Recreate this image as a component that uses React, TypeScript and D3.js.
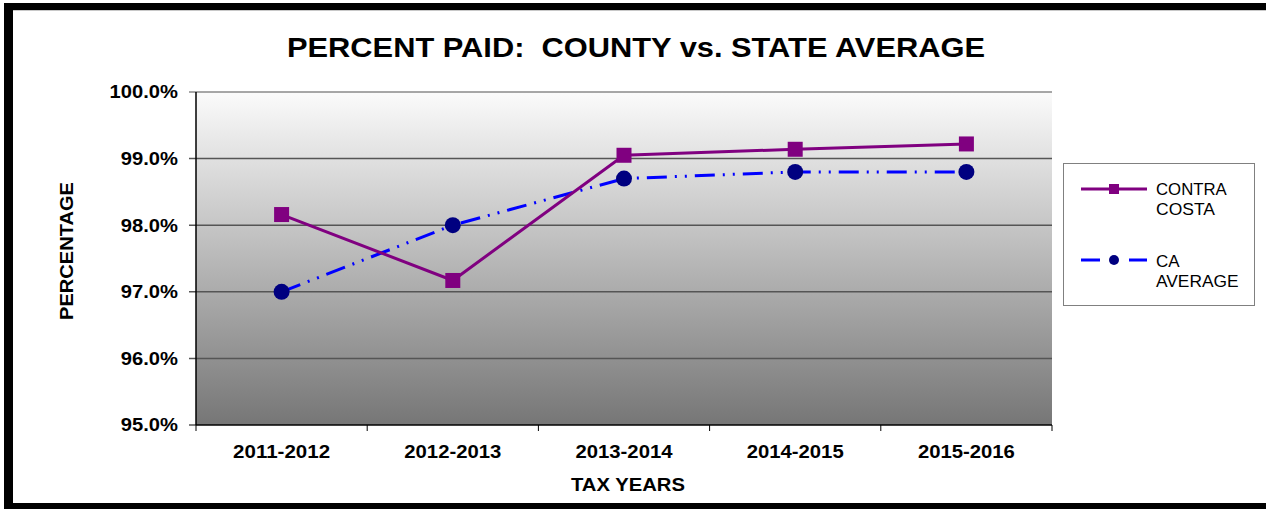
import React from "react";
import * as d3 from "d3";

const categories = ["2011-2012", "2012-2013", "2013-2014", "2014-2015", "2015-2016"];
const contraCosta = [98.16, 97.17, 99.05, 99.14, 99.22];
const caAverage = [97.0, 98.0, 98.7, 98.8, 98.8];
const yTicks = [95, 96, 97, 98, 99, 100];
const seriesNames = ["CONTRA\nCOSTA", "CA\nAVERAGE"];

const W = 1266;
const H = 511;
const M = { left: 196, top: 92, right: 1052, bottom: 425 };
const FONT = "Arial, 'Liberation Sans', Helvetica, sans-serif";
const STRETCH = 1.12;

// approximate Arial widths (em) for stretching text to the reference's wide look
function emWidth(s: string, bold: boolean) {
  const narrow: Record<string, number> = { ".": 0.278, " ": 0.278, "-": 0.333, "%": 0.889, ":": 0.333 };
  let w = 0;
  for (const ch of s) {
    if (narrow[ch] !== undefined) w += narrow[ch];
    else if (/[0-9]/.test(ch)) w += 0.556;
    else if (/[a-z]/.test(ch)) w += bold ? 0.6 : 0.53;
    else w += bold ? 0.69 : 0.68;
  }
  return w;
}

export default function App() {
  const x = d3.scaleBand<string>().domain(categories).range([M.left, M.right]).padding(0);
  const y = d3.scaleLinear().domain([95, 100]).range([M.bottom, M.top]);
  const cx = (c: string) => (x(c) as number) + x.bandwidth() / 2;

  const line = d3
    .line<number>()
    .x((_, i) => cx(categories[i]))
    .y((d) => y(d));

  const boundaries = categories.map((c) => x(c) as number).concat([M.right]);

  return (
    <div style={{ position: "absolute", left: 0, top: 0 }}>
      <svg width={W} height={H} style={{ display: "block" }}>
        <defs>
          <linearGradient id="bg" x1="0" y1="0" x2="0" y2="1">
            <stop offset="0" stopColor="#fbfbfb" />
            <stop offset="1" stopColor="#767676" />
          </linearGradient>
        </defs>
        <rect x={0} y={0} width={W} height={H} fill="#fff" />
        {/* outer frame */}
        <rect x={4} y={3} width={W} height={7} fill="#000" />
        <rect x={4} y={3} width={9} height={506} fill="#000" />
        <rect x={4} y={503} width={W} height={6} fill="#000" />
        <line x1={13} x2={W} y1={10.5} y2={10.5} stroke="#c8c8c8" strokeWidth={1} />

        <text
          x={636}
          y={57}
          textAnchor="middle"
          fontFamily={FONT}
          fontWeight="bold"
          fontSize={28}
          textLength={698}
          lengthAdjust="spacingAndGlyphs"
          style={{ whiteSpace: "pre" }}
        >
          {"PERCENT PAID:  COUNTY vs. STATE AVERAGE"}
        </text>

        {/* plot background */}
        <rect x={M.left} y={M.top} width={M.right - M.left} height={M.bottom - M.top} fill="url(#bg)" />

        {/* gridlines */}
        {yTicks.map((t) => {
          const label = t.toFixed(1) + "%";
          return (
            <g key={t}>
              <line
                x1={M.left - 7}
                x2={t === 95 ? M.left : M.right}
                y1={y(t)}
                y2={y(t)}
                stroke={t === 100 ? "#8a8a8a" : "#555"}
                strokeWidth={1.5}
              />
              <text
                x={178}
                y={y(t)}
                dy="0.36em"
                textAnchor="end"
                fontFamily={FONT}
                fontWeight="bold"
                fontSize={18}
                textLength={emWidth(label, true) * 18 * STRETCH}
                lengthAdjust="spacingAndGlyphs"
              >
                {label}
              </text>
            </g>
          );
        })}

        {/* axes */}
        <line x1={M.left} x2={M.left} y1={M.top} y2={M.bottom} stroke="#000" strokeWidth={1.5} />
        <line x1={M.left} x2={M.right} y1={M.bottom} y2={M.bottom} stroke="#000" strokeWidth={1.5} />
        {boundaries.map((b, i) => (
          <line key={i} x1={b} x2={b} y1={M.bottom} y2={M.bottom + 6} stroke="#000" strokeWidth={1} />
        ))}
        {categories.map((c) => (
          <text
            key={c}
            x={cx(c)}
            y={458}
            textAnchor="middle"
            fontFamily={FONT}
            fontWeight="bold"
            fontSize={18}
            textLength={97}
            lengthAdjust="spacingAndGlyphs"
          >
            {c}
          </text>
        ))}
        <text
          x={628}
          y={491}
          textAnchor="middle"
          fontFamily={FONT}
          fontWeight="bold"
          fontSize={19}
          textLength={114}
          lengthAdjust="spacingAndGlyphs"
        >
          TAX YEARS
        </text>
        <text
          transform={`translate(73,251) rotate(-90)`}
          textAnchor="middle"
          fontFamily={FONT}
          fontWeight="bold"
          fontSize={19}
          textLength={138}
          lengthAdjust="spacingAndGlyphs"
        >
          PERCENTAGE
        </text>

        {/* CA average */}
        <path
          d={line(caAverage) || ""}
          fill="none"
          stroke="#0000ff"
          strokeWidth={3}
          strokeDasharray="20 8 2 8 2 8"
        />
        {caAverage.map((v, i) => (
          <circle key={i} cx={cx(categories[i])} cy={y(v)} r={8} fill="#000080" />
        ))}

        {/* Contra Costa */}
        <path d={line(contraCosta) || ""} fill="none" stroke="#800080" strokeWidth={3} />
        {contraCosta.map((v, i) => (
          <rect key={i} x={cx(categories[i]) - 7.5} y={y(v) - 7.5} width={15} height={15} fill="#800080" />
        ))}

        {/* legend */}
        <rect x={1063.5} y={163.5} width={191} height={142} fill="#fff" stroke="#808080" strokeWidth={1} />
        <line x1={1081} x2={1147} y1={189} y2={189} stroke="#800080" strokeWidth={3} />
        <rect x={1109} y={184} width={10} height={10} fill="#800080" />
        <line x1={1081} x2={1147} y1={260} y2={260} stroke="#0000ff" strokeWidth={3} strokeDasharray="19 29 19" />
        <circle cx={1114} cy={260} r={5} fill="#000080" />
        {seriesNames.map((n, si) =>
          n.split("\n").map((ln, li) => (
            <text
              key={si + "-" + li}
              x={1156}
              y={si === 0 ? 195 + li * 20 : 267 + li * 20}
              fontFamily={FONT}
              fontSize={17}
              textLength={emWidth(ln, false) * 17 * 1.02}
              lengthAdjust="spacingAndGlyphs"
            >
              {ln}
            </text>
          ))
        )}
      </svg>
    </div>
  );
}
